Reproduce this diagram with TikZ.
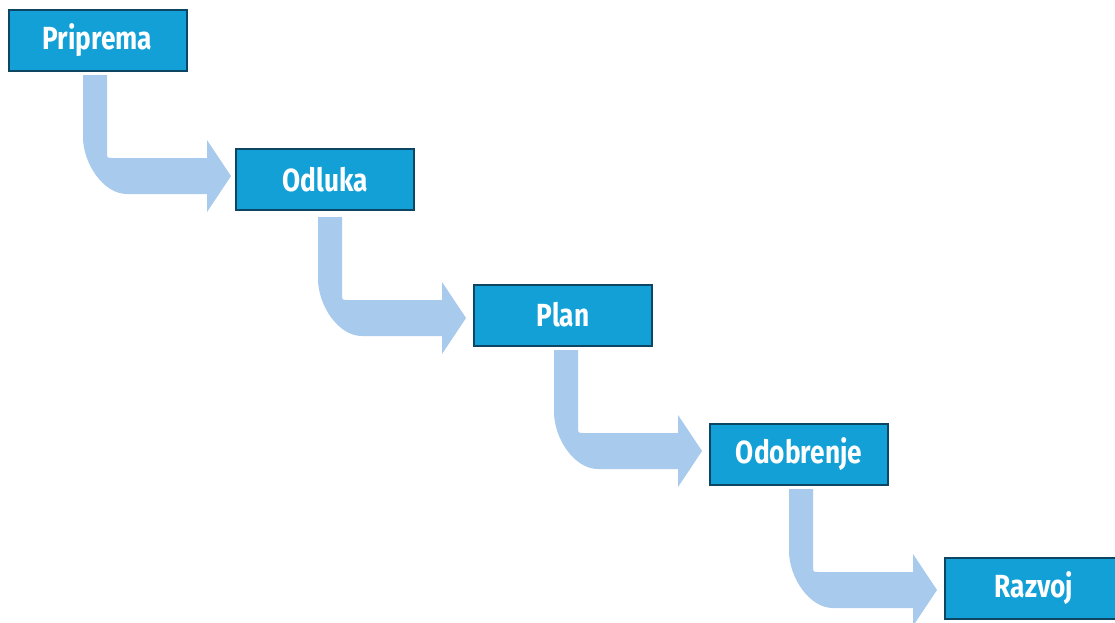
\documentclass[tikz,border=0pt]{standalone}
\usepackage{fontspec}
\setmainfont{Fira Sans}[FakeStretch=0.82]
\definecolor{boxfill}{HTML}{12A0D7}
\definecolor{boxline}{HTML}{0C4662}
\definecolor{arrowfill}{HTML}{A8CBED}
\begin{document}
\begin{tikzpicture}[x=1pt,y=-1pt,
  stepbox/.style={draw=boxline,line width=2pt,fill=boxfill,minimum width=178pt,minimum height=61pt,
    inner sep=0pt,text=white,font=\fontsize{32}{36}\selectfont\bfseries},
  bentarrow/.style={fill=arrowfill,draw=none}]
\useasboundingbox (0,0) rectangle (1115,622);
\clip (0,0) rectangle (1115,622);
% bent arrows
\foreach \ax/\ay in {83/75,318/217,554/350,789/489}{
  \begin{scope}[shift={(\ax,\ay)}]
  \path[bentarrow] (0,0) -- (24,0) -- (24,77) .. controls (24,83) .. (30,83)
    -- (124,83) -- (124,65) -- (148,101) -- (124,137) -- (124,119) -- (44,119)
    .. controls (20,119) and (0,88) .. (0,62) -- cycle;
  \end{scope}
}
% boxes
\node[stepbox] (s1) at (97.5,40) {Priprema};
\node[stepbox] (s2) at (325,179.5) {Odluka};
\node[stepbox] (s3) at (563,315) {Plan};
\node[stepbox] (s4) at (799,454) {Odobrenje};
\node[stepbox] (s5) at (1034,588) {Razvoj};
\end{tikzpicture}
\end{document}
